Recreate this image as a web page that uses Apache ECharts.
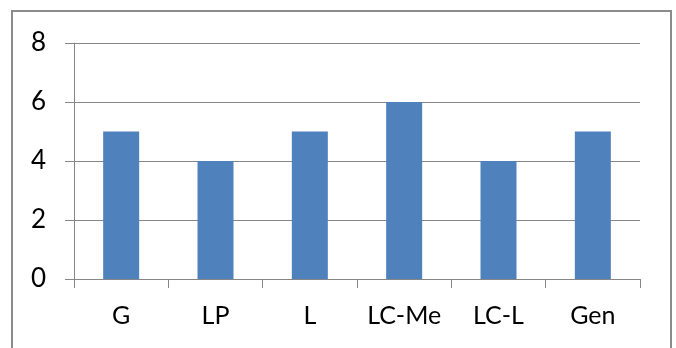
<!DOCTYPE html>
<html>
<head>
<meta charset="utf-8">
<script src="https://cdn.jsdelivr.net/npm/echarts@6/dist/echarts.min.js"></script>
<style>
  html, body { margin: 0; padding: 0; background: #fff; }
  #chart { width: 676px; height: 348px; }
</style>
</head>
<body>
<div id="chart"></div>
<script>
const categories = ['G', 'LP', 'L', 'LC-Me', 'LC-L', 'Gen'];
const values = [5, 4, 5, 6, 4, 5];
const yTicks = [0, 2, 4, 6, 8];

const chart = echarts.init(document.getElementById('chart'), null, { renderer: 'canvas' });
const axisGray = '#868686';
const textFont = 'Lato, "Open Sans", "Liberation Sans", sans-serif';

chart.setOption({
  animation: false,
  backgroundColor: '#ffffff',
  graphic: [{
    type: 'rect',
    shape: { x: 12, y: 11, width: 659, height: 360 },
    style: { fill: 'none', stroke: '#8c8c8c', lineWidth: 2 },
    silent: true
  }],
  grid: { left: 74, right: 36, top: 43, bottom: 69, containLabel: false },
  xAxis: {
    type: 'category',
    data: categories,
    axisLine: { show: true, lineStyle: { color: axisGray, width: 1 } },
    axisTick: { show: true, length: 9, alignWithLabel: false, lineStyle: { color: axisGray } },
    axisLabel: { color: '#000', fontSize: 25, fontFamily: textFont, margin: 24, interval: 0 },
    splitLine: { show: false }
  },
  yAxis: {
    type: 'value',
    min: yTicks[0],
    max: yTicks[yTicks.length - 1],
    interval: 2,
    axisLine: { show: true, lineStyle: { color: axisGray, width: 1 } },
    axisTick: { show: true, length: 9, lineStyle: { color: axisGray } },
    axisLabel: { color: '#000', fontSize: 26, fontFamily: textFont, margin: 28 },
    splitLine: { show: true, lineStyle: { color: axisGray, width: 1 } }
  },
  series: [{
    type: 'bar',
    data: values,
    barWidth: 36,
    itemStyle: { color: '#4f81bd' }
  }]
});
</script>
</body>
</html>
